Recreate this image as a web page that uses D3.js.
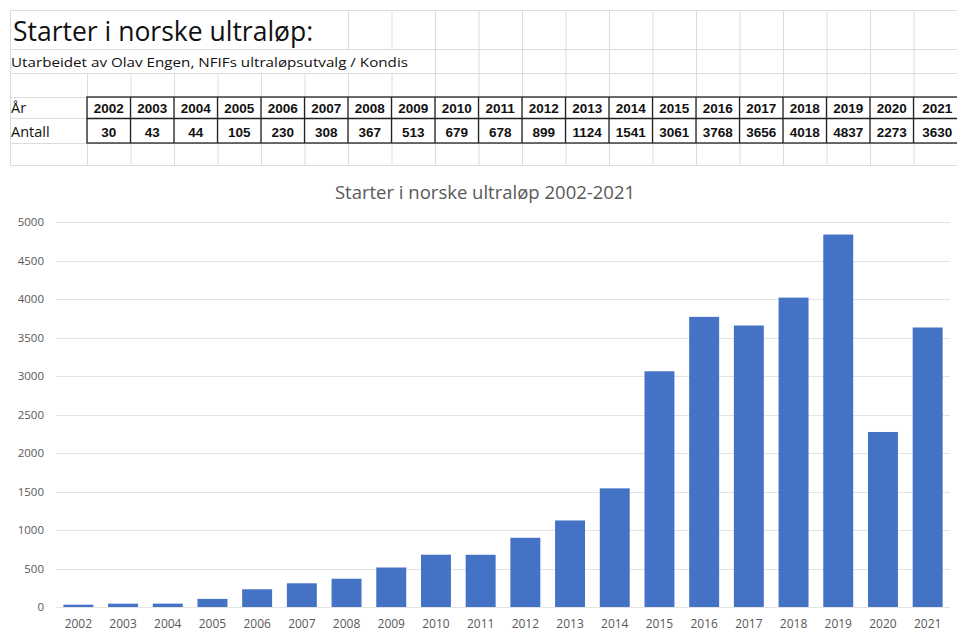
<!DOCTYPE html>
<html>
<head>
<meta charset="utf-8">
<script src="https://cdn.jsdelivr.net/npm/d3@7"></script>
<style>
  body { margin: 0; background: #fff; }
  svg { display: block; }
</style>
</head>
<body>
<div id="chart"></div>
<script>
var years = ['2002', '2003', '2004', '2005', '2006', '2007', '2008', '2009', '2010', '2011',
             '2012', '2013', '2014', '2015', '2016', '2017', '2018', '2019', '2020', '2021'];
var antall = [30, 43, 44, 105, 230, 308, 367, 513, 679, 678,
              899, 1124, 1541, 3061, 3768, 3656, 4018, 4837, 2273, 3630];
var yTicks = [0, 500, 1000, 1500, 2000, 2500, 3000, 3500, 4000, 4500, 5000];
var sheetTitle = 'Starter i norske ultraløp:';
var sheetSub = 'Utarbeidet av Olav Engen, NFIFs ultraløpsutvalg / Kondis';
var rowLabels = ['År', 'Antall'];
var chartTitle = 'Starter i norske ultraløp 2002-2021';

var width = 957, height = 639;
var font = '"Open Sans", "Noto Sans", sans-serif';
var narrow = '"Liberation Sans Narrow", "Liberation Sans", sans-serif';

var svg = d3.select('#chart').append('svg')
    .attr('width', width)
    .attr('height', height);

// ---- spreadsheet part ----
var rowLines = [10, 49, 73, 97, 118, 143, 165];
var colX = years.map((d, i) => 87 + i * 43.5);
var colEnd = 965;
var grid = svg.append('g').attr('stroke', '#dcdcdc').attr('stroke-width', 1);

// horizontal grid lines
grid.selectAll('line.h')
    .data(rowLines)
    .enter().append('line')
    .attr('x1', 10).attr('x2', width)
    .attr('y1', d => d + 0.5).attr('y2', d => d + 0.5);

// vertical grid lines; overflowing text hides them in the title rows
var vSegments = [];
colX.forEach(function(x) {
    if (x > 330 && x < 420) vSegments.push([x, 10, 49], [x, 73, 165]);
    else if (x > 420) vSegments.push([x, 10, 165]);
    else vSegments.push([x, 73, 165]);
});
vSegments.push([10, 10, 165]);
grid.selectAll('line.v')
    .data(vSegments)
    .enter().append('line')
    .attr('x1', d => d[0] + 0.5).attr('x2', d => d[0] + 0.5)
    .attr('y1', d => d[1]).attr('y2', d => d[2]);

svg.append('text')
    .attr('x', 13).attr('y', 41)
    .attr('font-family', font).attr('font-size', 26.5)
    .attr('fill', '#111')
    .text(sheetTitle);

svg.append('text')
    .attr('x', 11).attr('y', 67)
    .attr('font-family', font).attr('font-size', 13.5)
    .attr('textLength', 397).attr('lengthAdjust', 'spacingAndGlyphs')
    .attr('fill', '#111')
    .text(sheetSub);

// row labels
svg.selectAll('text.rowlab')
    .data(rowLabels)
    .enter().append('text')
    .attr('x', 11)
    .attr('y', (d, i) => [113, 137][i])
    .attr('font-family', font).attr('font-size', 14.5)
    .attr('fill', '#111')
    .text(d => d);

// table borders
var tbl = svg.append('g').attr('stroke', '#222').attr('stroke-width', 1.3).attr('fill', 'none');
tbl.append('rect')
    .attr('x', colX[0]).attr('y', 97)
    .attr('width', colEnd - colX[0]).attr('height', 46);
tbl.append('line')
    .attr('x1', colX[0]).attr('x2', colEnd)
    .attr('y1', 118.5).attr('y2', 118.5);
tbl.selectAll('line.c')
    .data(colX.slice(1))
    .enter().append('line')
    .attr('x1', d => d).attr('x2', d => d)
    .attr('y1', 97).attr('y2', 143);

var colCenter = (d, i) => i < years.length - 1 ? colX[i] + 21.75 : (colX[i] + colEnd) / 2 - 2;
svg.selectAll('text.yr')
    .data(years)
    .enter().append('text')
    .attr('x', colCenter).attr('y', 113)
    .attr('text-anchor', 'middle')
    .attr('font-family', narrow).attr('font-weight', 'bold').attr('font-size', 13.5)
    .attr('fill', '#111')
    .text(d => d);
svg.selectAll('text.val')
    .data(antall)
    .enter().append('text')
    .attr('x', colCenter).attr('y', 137)
    .attr('text-anchor', 'middle')
    .attr('font-family', narrow).attr('font-weight', 'bold').attr('font-size', 13.5)
    .attr('fill', '#111')
    .text(d => d);

// ---- chart part ----
var margin = { top: 222, bottom: 607, left: 56, right: 950 };

var x = d3.scaleBand().domain(years)
    .range([margin.left, margin.right]).paddingInner(0.33).paddingOuter(0.165);
var y = d3.scaleLinear().domain([0, 5000])
    .range([margin.bottom, margin.top]);

svg.append('text')
    .attr('x', 485).attr('y', 199)
    .attr('text-anchor', 'middle')
    .attr('font-family', font).attr('font-size', 18.5)
    .attr('fill', '#595959')
    .text(chartTitle);

svg.append('g')
    .selectAll('line')
    .data(yTicks)
    .enter().append('line')
    .attr('x1', margin.left).attr('x2', margin.right)
    .attr('y1', d => Math.round(y(d)) + 0.5).attr('y2', d => Math.round(y(d)) + 0.5)
    .attr('stroke', '#e3e3e3');

svg.append('g')
    .selectAll('rect')
    .data(antall)
    .enter().append('rect')
    .attr('x', (d, i) => x(years[i]))
    .attr('y', d => y(d))
    .attr('width', x.bandwidth())
    .attr('height', d => y(0) - y(d))
    .attr('fill', '#4472c4');

var yAxis = svg.append('g')
    .attr('transform', 'translate(44,0)')
    .call(d3.axisLeft(y).tickValues(yTicks).tickFormat(d3.format('d')).tickSize(0).tickPadding(0));
yAxis.select('.domain').remove();
yAxis.selectAll('text')
    .attr('font-family', font).attr('font-size', 11.5).attr('fill', '#595959');

var xAxis = svg.append('g')
    .attr('transform', 'translate(0,' + 619 + ')')
    .call(d3.axisBottom(x).tickSize(0).tickPadding(0));
xAxis.select('.domain').remove();
xAxis.selectAll('text')
    .attr('font-family', font).attr('font-size', 12).attr('fill', '#595959');
</script>
</body>
</html>
